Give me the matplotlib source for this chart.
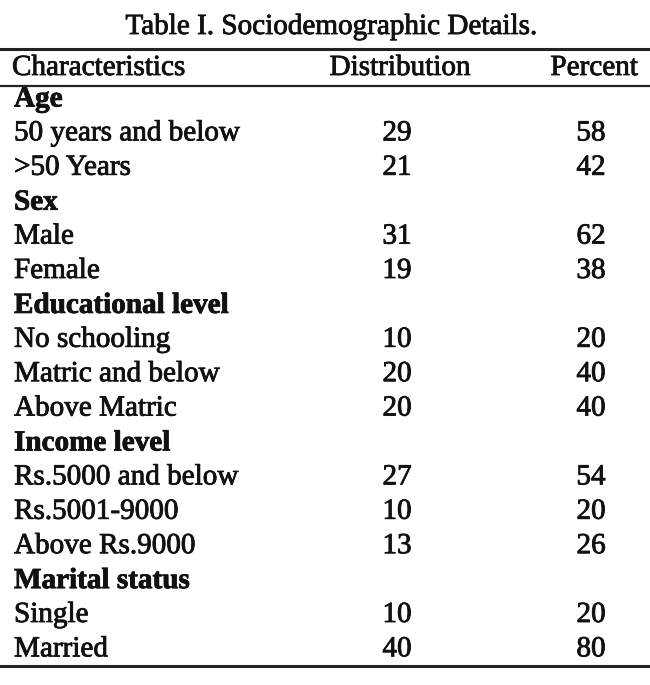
import matplotlib
matplotlib.use("Agg")
import matplotlib.pyplot as plt
import matplotlib.patheffects as pe

title = "Table I. Sociodemographic Details."
headers = ["Characteristics", "Distribution", "Percent"]
groups = ["Age", "Sex", "Educational level", "Income level", "Marital status"]
labels = [
    ["50 years and below", ">50 Years"],
    ["Male", "Female"],
    ["No schooling", "Matric and below", "Above Matric"],
    ["Rs.5000 and below", "Rs.5001-9000", "Above Rs.9000"],
    ["Single", "Married"],
]
distribution = [[29, 21], [31, 19], [10, 20, 20], [27, 10, 13], [10, 40]]
percent = [[58, 42], [62, 38], [20, 40, 40], [54, 20, 26], [20, 80]]

W, H = 650, 685
fig = plt.figure(figsize=(W / 100, H / 100), dpi=100)
ax = fig.add_axes([0, 0, 1, 1])
ax.set_xlim(0, W)
ax.set_ylim(H, 0)
ax.axis("off")

font = ["Liberation Serif", "DejaVu Serif"]
fs = 21
ink = "#111111"
thick = [pe.withStroke(linewidth=0.6, foreground=ink)]


def put(x, y, s, ha="left", bold=False):
    ax.text(x, y, s, ha=ha, va="center", fontsize=fs, family=font, color=ink,
            fontweight="bold" if bold else "normal", path_effects=thick)


put(331, 27, title, ha="center")
ax.plot([0, W], [48.5, 48.5], color="#222", lw=2.2)
put(12, 68, headers[0])
put(400, 68, headers[1], ha="center")
put(594, 68, headers[2], ha="center")
ax.plot([0, W], [86, 86], color="#222", lw=1.6)

y = 99
step = 34.4
for g, labs, ds, ps in zip(groups, labels, distribution, percent):
    put(14, y, g, bold=True)
    y += step
    for lab, d, p in zip(labs, ds, ps):
        put(14, y, lab)
        put(397, y, str(d), ha="center")
        put(591, y, str(p), ha="center")
        y += step

ax.plot([0, W], [666, 666], color="#222", lw=2.2)
fig.savefig("out.png", dpi=100, facecolor="white")
